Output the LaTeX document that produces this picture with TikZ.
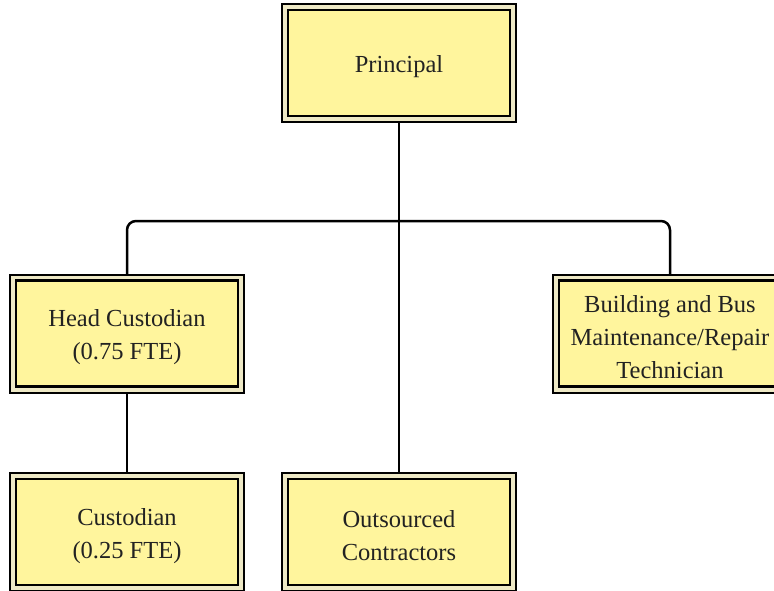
\documentclass[tikz,border=0pt]{standalone}
\usepackage{fontspec}
\setmainfont{Liberation Serif}
\usetikzlibrary{backgrounds}
\definecolor{boxfill}{HTML}{FFF59D}
\definecolor{gapfill}{HTML}{EEE9C6}
\definecolor{txt}{HTML}{222222}
\tikzset{
  orgbox/.style={
    rectangle, minimum width=222pt, minimum height=106pt, inner sep=0pt,
    fill=boxfill, draw=black, line width=2.5pt,
    preaction={draw=black, line width=14pt},
    preaction={draw=gapfill, line width=10pt}
  },
  orgtext/.style={align=center, text=txt, inner sep=0pt,
    font=\fontsize{24.5pt}{33pt}\selectfont},
  link/.style={draw=black, line width=2.5pt}
}
\newcommand\orgnode[3]{%
  \node[orgbox] (#1) at (#2) {};
  \node[orgtext] (#1-t) at ([yshift=-4pt]#1.center) {#3};}
\begin{document}
\begin{tikzpicture}[x=1pt,y=1pt]
\useasboundingbox (0,0) rectangle (774,-590);
\orgnode{P}{399,-63}{Principal}
\orgnode{HC}{127,-333.5}{Head Custodian\\(0.75 FTE)}
\orgnode{B}{670,-333.5}{Building and Bus\\Maintenance/Repair\\Technician}
\orgnode{C}{127,-532}{Custodian\\(0.25 FTE)}
\orgnode{O}{399,-532}{Outsourced\\Contractors}
\coordinate (bus) at (399,-221);
\begin{scope}[on background layer]
\draw[link] (P.center) -- (O.center);
\draw[link, rounded corners=9pt] (HC.center) |- (bus) -| (B.center);
\draw[link] (HC.center) -- (C.center);
\end{scope}
\end{tikzpicture}
\end{document}
